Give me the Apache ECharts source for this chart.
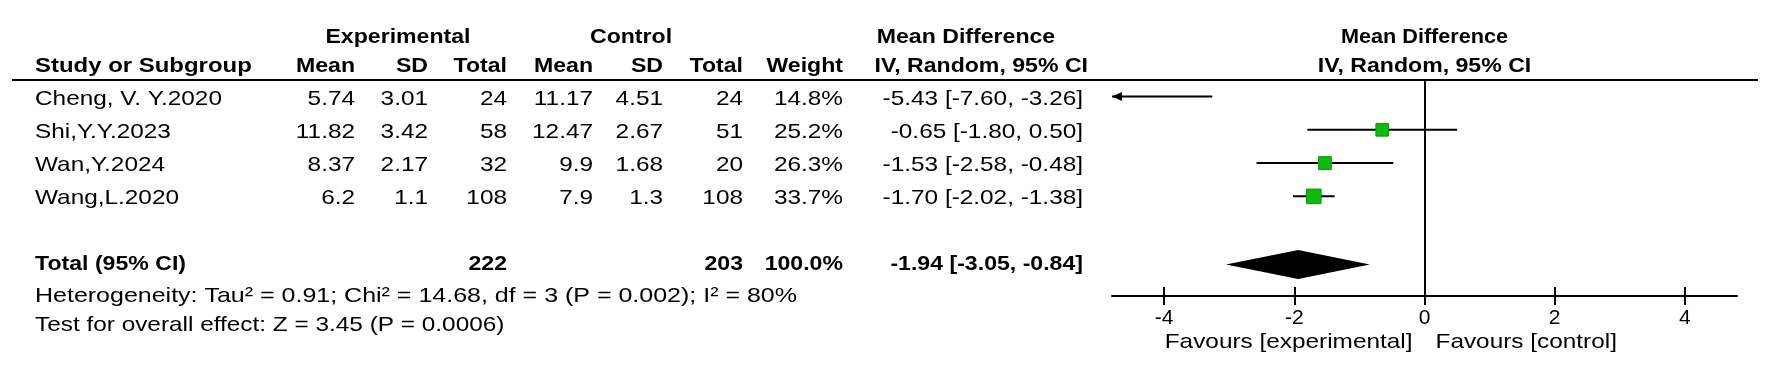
<!DOCTYPE html>
<html>
<head>
<meta charset="utf-8">
<script src="https://cdn.jsdelivr.net/npm/echarts@6/dist/echarts.min.js"></script>
<style>
  html, body { margin: 0; padding: 0; background: #fff; }
  #chart { width: 1771px; height: 391px; }
</style>
</head>
<body>
<div id="chart"></div>
<script>
// study data
const studies = ['Cheng, V. Y.2020', 'Shi,Y.Y.2023', 'Wan,Y.2024', 'Wang,L.2020'];
const expMean = [5.74, 11.82, 8.37, 6.2];
const expSD = [3.01, 3.42, 2.17, 1.1];
const expTotal = [24, 58, 32, 108];
const ctrlMean = [11.17, 12.47, 9.9, 7.9];
const ctrlSD = [4.51, 2.67, 1.68, 1.3];
const ctrlTotal = [24, 51, 20, 108];
const weights = [14.8, 25.2, 26.3, 33.7];
const md = [-5.43, -0.65, -1.53, -1.70];
const ciLow = [-7.60, -1.80, -2.58, -2.02];
const ciHigh = [-3.26, 0.50, -0.48, -1.38];

// pooled result
const pooledTotals = [222, 203];
const pooledWeight = 100.0;
const pooledMD = [-1.94, -3.05, -0.84];

const tickValues = [-4, -2, 0, 2, 4];
const heterogeneityText = 'Heterogeneity: Tau\u00B2 = 0.91; Chi\u00B2 = 14.68, df = 3 (P = 0.002); I\u00B2 = 80%';
const overallText = 'Test for overall effect: Z = 3.45 (P = 0.0006)';
const favoursLabels = ['Favours [experimental]', 'Favours [control]'];

// layout
const W = 1771, H = 391;
const FONT = '"Liberation Sans", Arial, sans-serif';
const FS = 21;
const SX_REG = 1.16, SX_BOLD = 1.1;
const plotLeft = 1112, plotRight = 1737, plotTop = 80, plotBottom = 296;
const xMin = -4.8, xMax = 4.8;
const rowMin = -0.5, rowMax = 6;
const rowH = (plotBottom - plotTop) / (rowMax - rowMin);
const tableRowMin = rowMin - plotTop / rowH;
const tableRowMax = rowMax + (H - plotBottom) / rowH;

const ROW_TITLE = -1.79, ROW_HEAD = -0.92, ROW_TOTAL = 5.05, ROW_HET = 6.0, ROW_TEST = 6.87, ROW_FAV = 7.39;
const TEXT_DROP = 0.07; // table text sits a touch below the plot marks
const col = { study: 35, expMean: 355, expSD: 428, expTotal: 507, ctrlMean: 593, ctrlSD: 663, ctrlTotal: 743, weight: 843, ci: 1083 };

const fmtCI = (m, lo, hi) => `${m.toFixed(2)} [${lo.toFixed(2)}, ${hi.toFixed(2)}]`;

// table cells (x in table pixels, row on the shared row scale)
const cells = [];
function cell(x, row, text, align, bold, sx) { cells.push({ x, row, text, align, bold, sx }); }

cell(398, ROW_TITLE, 'Experimental', 'center', true);
cell(631, ROW_TITLE, 'Control', 'center', true);
cell(966, ROW_TITLE, 'Mean Difference', 'center', true);
cell(col.study, ROW_HEAD, 'Study or Subgroup', 'left', true, 1.14);
cell(col.expMean, ROW_HEAD, 'Mean', 'right', true);
cell(col.expSD, ROW_HEAD, 'SD', 'right', true);
cell(col.expTotal, ROW_HEAD, 'Total', 'right', true);
cell(col.ctrlMean, ROW_HEAD, 'Mean', 'right', true);
cell(col.ctrlSD, ROW_HEAD, 'SD', 'right', true);
cell(col.ctrlTotal, ROW_HEAD, 'Total', 'right', true);
cell(col.weight, ROW_HEAD, 'Weight', 'right', true);
cell(col.ci + 5, ROW_HEAD, 'IV, Random, 95% CI', 'right', true);

studies.forEach((s, i) => {
  const r = i + TEXT_DROP;
  cell(col.study, r, s, 'left');
  cell(col.expMean, r, String(expMean[i]), 'right');
  cell(col.expSD, r, String(expSD[i]), 'right');
  cell(col.expTotal, r, String(expTotal[i]), 'right');
  cell(col.ctrlMean, r, String(ctrlMean[i]), 'right');
  cell(col.ctrlSD, r, String(ctrlSD[i]), 'right');
  cell(col.ctrlTotal, r, String(ctrlTotal[i]), 'right');
  cell(col.weight, r, weights[i].toFixed(1) + '%', 'right');
  cell(col.ci, r, fmtCI(md[i], ciLow[i], ciHigh[i]), 'right');
});

cell(col.study, ROW_TOTAL, 'Total (95% CI)', 'left', true);
cell(col.expTotal, ROW_TOTAL, String(pooledTotals[0]), 'right', true);
cell(col.ctrlTotal, ROW_TOTAL, String(pooledTotals[1]), 'right', true);
cell(col.weight, ROW_TOTAL, pooledWeight.toFixed(1) + '%', 'right', true);
cell(col.ci, ROW_TOTAL, fmtCI(pooledMD[0], pooledMD[1], pooledMD[2]), 'right', true);
cell(col.study, ROW_HET, heterogeneityText, 'left', false, 1.19);
cell(col.study, ROW_TEST, overallText, 'left');

// texts placed on the forest axes (x in effect units)
const plotTexts = [
  { x: 0, row: ROW_TITLE, text: 'Mean Difference', align: 'center', bold: true, sx: 1.03 },
  { x: 0, row: ROW_HEAD, text: 'IV, Random, 95% CI', align: 'center', bold: true },
  { x: 0, row: ROW_FAV, text: favoursLabels[0], align: 'right', dx: -12 },
  { x: 0, row: ROW_FAV, text: favoursLabels[1], align: 'left', dx: 11 }
];

function textEl(pt, c) {
  return {
    type: 'text',
    x: pt[0] + (c.dx || 0),
    y: pt[1],
    scaleX: c.sx || (c.bold ? SX_BOLD : SX_REG),
    style: {
      text: c.text, fill: '#000', fontFamily: FONT, fontSize: FS,
      fontWeight: c.bold ? 'bold' : 'normal', align: c.align, verticalAlign: 'middle'
    }
  };
}

const chart = echarts.init(document.getElementById('chart'), null, { renderer: 'canvas' });

chart.setOption({
  backgroundColor: '#fff',
  animation: false,
  grid: [
    { left: 0, top: 0, width: W, height: H, outerBoundsMode: 'none' },
    { left: plotLeft, top: plotTop, width: plotRight - plotLeft, height: plotBottom - plotTop, outerBoundsMode: 'none' }
  ],
  xAxis: [
    { type: 'value', gridIndex: 0, min: 0, max: W, show: false },
    {
      type: 'value', gridIndex: 1, min: xMin, max: xMax, position: 'bottom',
      axisLine: { onZero: false, lineStyle: { color: '#000', width: 2 } },
      axisTick: { customValues: tickValues, length: 9, lineStyle: { color: '#000', width: 2 } },
      axisLabel: { customValues: tickValues, color: '#000', fontFamily: FONT, fontSize: 21, margin: 12 },
      splitLine: { show: false }
    },
    {
      type: 'value', gridIndex: 1, min: xMin, max: xMax, position: 'bottom',
      axisLine: { show: false, onZero: false },
      axisTick: { inside: true, customValues: tickValues, length: 9, lineStyle: { color: '#000', width: 2 } },
      axisLabel: { show: false },
      splitLine: { show: false }
    }
  ],
  yAxis: [
    { type: 'value', gridIndex: 0, inverse: true, min: tableRowMin, max: tableRowMax, show: false },
    {
      type: 'value', gridIndex: 1, inverse: true, min: rowMin, max: rowMax,
      axisLine: { show: true, onZero: true, lineStyle: { color: '#000', width: 2 } },
      axisTick: { show: false }, axisLabel: { show: false }, splitLine: { show: false }
    }
  ],
  graphic: [{
    type: 'line', silent: true,
    shape: { x1: 12, y1: plotTop, x2: 1758, y2: plotTop },
    style: { stroke: '#000', lineWidth: 2 }
  }],
  series: [
    {
      type: 'custom', name: 'table', xAxisIndex: 0, yAxisIndex: 0, silent: true,
      data: cells.map(c => [c.x, c.row]),
      renderItem: (params, api) => textEl(api.coord([api.value(0), api.value(1)]), cells[params.dataIndex])
    },
    {
      type: 'custom', name: 'plotText', xAxisIndex: 1, yAxisIndex: 1, silent: true,
      data: plotTexts.map(c => [c.x, c.row]),
      renderItem: (params, api) => textEl(api.coord([api.value(0), api.value(1)]), plotTexts[params.dataIndex])
    },
    {
      type: 'custom', name: 'ci', xAxisIndex: 1, yAxisIndex: 1, silent: true,
      data: studies.map((s, i) => [ciLow[i], ciHigh[i], i]),
      encode: { x: [0, 1], y: 2 },
      renderItem: (params, api) => {
        const lo = api.value(0), hi = api.value(1), row = api.value(2);
        const a = api.coord([Math.max(lo, xMin), row]);
        const b = api.coord([Math.min(hi, xMax), row]);
        const kids = [{ type: 'line', shape: { x1: a[0], y1: a[1], x2: b[0], y2: b[1] }, style: { stroke: '#000', lineWidth: 2 } }];
        if (lo < xMin) kids.push({ type: 'polygon', shape: { points: [[a[0], a[1]], [a[0] + 10, a[1] - 4.5], [a[0] + 10, a[1] + 4.5]] }, style: { fill: '#000' } });
        if (hi > xMax) kids.push({ type: 'polygon', shape: { points: [[b[0], b[1]], [b[0] - 10, b[1] - 4.5], [b[0] - 10, b[1] + 4.5]] }, style: { fill: '#000' } });
        return { type: 'group', children: kids };
      }
    },
    {
      type: 'custom', name: 'estimate', xAxisIndex: 1, yAxisIndex: 1, silent: true,
      data: studies.map((s, i) => [md[i], i, weights[i]]),
      encode: { x: 0, y: 1 },
      renderItem: (params, api) => {
        const v = api.value(0);
        if (v < xMin || v > xMax) return null;
        const p = api.coord([v, api.value(1)]);
        const s = 2.5 * Math.sqrt(api.value(2));
        return {
          type: 'rect', shape: { x: p[0] - s / 2, y: p[1] - s / 2, width: s, height: s },
          style: { fill: '#0cbc0c', stroke: '#089a08', lineWidth: 1 }
        };
      }
    },
    {
      type: 'custom', name: 'pooled', xAxisIndex: 1, yAxisIndex: 1, silent: true,
      data: [[pooledMD[1], pooledMD[0], pooledMD[2], ROW_TOTAL]],
      encode: { x: [0, 1, 2], y: 3 },
      renderItem: (params, api) => {
        const row = api.value(3);
        const l = api.coord([api.value(0), row]);
        const m = api.coord([api.value(1), row]);
        const r = api.coord([api.value(2), row]);
        const h = 14.5;
        return {
          type: 'polygon',
          shape: { points: [[l[0], l[1]], [m[0], m[1] - h], [r[0], r[1]], [m[0], m[1] + h]] },
          style: { fill: '#000' }
        };
      }
    }
  ]
});
</script>
</body>
</html>
